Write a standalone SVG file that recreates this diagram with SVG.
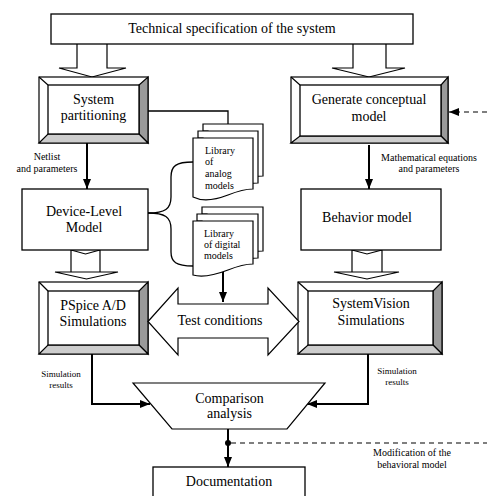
<svg xmlns="http://www.w3.org/2000/svg" width="487" height="496" viewBox="0 0 487 496">
<defs>
<style>
text{font-family:'Liberation Serif','DejaVu Serif',serif;fill:#000}
.big{font-size:14px;text-anchor:middle}
.sm{font-size:10px;text-anchor:middle}
.xs{font-size:9px;text-anchor:middle}
.lib{font-size:10px}
.box{fill:#fff;stroke:#000;stroke-width:1.3}
.hol{fill:#fff;stroke:#000;stroke-width:1.2}
.dark{fill:#9a9a9a;stroke:#000;stroke-width:1.2}
.light{fill:#cdcdcd;stroke:#000;stroke-width:1.2}
.wht{fill:#fff;stroke:#000;stroke-width:1.2}
.ln{fill:none;stroke:#000;stroke-width:2}
.thin{fill:none;stroke:#000;stroke-width:1.3}
.dash{fill:none;stroke:#000;stroke-width:1.1;stroke-dasharray:5 4}
</style>
<marker id="ah" viewBox="0 0 10 8" refX="10" refY="4" markerWidth="10" markerHeight="8" markerUnits="userSpaceOnUse" orient="auto">
<path d="M0,0 L10,4 L0,8 Z" fill="#000"/>
</marker>
</defs>

<g id="connectors">
<path class="hol" d="M77,44 V68 H59 L92,77 L126,68 H107 V44"/>
<path class="hol" d="M353,44 V68 H332 L369,77 L405,68 H386 V44"/>
<path class="hol" d="M71,250 L85.5,254 L100,250 V272 H55 L86.5,279 L118,272 H100"/>
<path class="hol" d="M71,250 V272"/>
<path class="hol" d="M352,250 L367,254 L382,250 V272 H334 L367,279 L399,272 H382"/>
<path class="hol" d="M352,250 V272"/>
<path class="thin" d="M148,111 H228 V124"/>
<path class="ln" d="M87,143 V189" marker-end="url(#ah)"/>
<path class="ln" d="M369,145 V189" marker-end="url(#ah)"/>
<path class="ln" d="M223,272 V302" marker-end="url(#ah)"/>
<path class="thin" d="M148,213 C165,213 171,209 171,197 V177 C171,166 176,162 193,162"/>
<path class="thin" d="M148,213 C165,213 171,217 171,229 V252 C171,262 176,266 193,266"/>
<path class="ln" d="M92,354 V404 H150" marker-end="url(#ah)"/>
<path class="ln" d="M368,354 V404 H307" marker-end="url(#ah)"/>
<path class="ln" d="M228,429 V467" marker-end="url(#ah)"/>
<circle cx="228" cy="443" r="3" fill="#000"/>
<path class="dash" d="M231,443 H487"/>
<path class="dash" d="M487,112 H449" marker-end="url(#ah)"/>
</g>

<g id="spec">
<rect class="box" x="51" y="14" width="362" height="30"/>
<text class="big" x="232" y="33" font-family="Liberation Serif">Technical specification of the system</text>
</g>

<g id="partitioning">
<rect class="wht" x="39" y="77" width="109" height="66"/>
<polygon class="dark" points="148,77 148,143 139,134 139,85"/>
<polygon class="light" points="39,143 148,143 139,134 48,134"/>
<line x1="39" y1="77" x2="48" y2="85" stroke="#000" stroke-width="1.2"/>
<rect class="box" x="48" y="85" width="91" height="49"/>
<text class="big" x="93.5" y="104">System</text>
<text class="big" x="93.5" y="120">partitioning</text>
</g>

<g id="conceptual">
<rect class="wht" x="291" y="77" width="157" height="66"/>
<polygon class="dark" points="448,77 448,143 441,136 441,85"/>
<polygon class="light" points="291,143 448,143 441,136 300,136"/>
<line x1="291" y1="77" x2="300" y2="85" stroke="#000" stroke-width="1.2"/>
<rect class="box" x="300" y="85" width="141" height="51"/>
<text class="big" x="369" y="104">Generate conceptual</text>
<text class="big" x="369" y="121">model</text>
</g>

<g id="device">
<rect class="box" x="22" y="189" width="126" height="61"/>
<text class="big" x="84" y="216">Device-Level</text>
<text class="big" x="84" y="232">Model</text>
</g>

<g id="behavior">
<rect class="box" x="301" y="189" width="140" height="61"/>
<text class="big" x="367" y="222">Behavior model</text>
</g>

<g id="lib-analog">
<path class="wht" d="M203,124 H263 V176 C255,176 248,178 240,181 C230,185 218,186 208,183 V131 H203 Z"/>
<path class="wht" d="M198,131 H258 V183 C250,183 243,185 235,188 C225,192 213,193 203,190 V138 H198 Z"/>
<path class="wht" d="M193,138 H253 V189 C245,189 238,191 228,195 C215,200 203,202 193,197 Z"/>
<text class="lib" x="205" y="154">Library</text>
<text class="lib" x="205" y="165">of</text>
<text class="lib" x="205" y="177">analog</text>
<text class="lib" x="205" y="189">models</text>
</g>

<g id="lib-digital">
<path class="wht" d="M202,207 H263 V251 C255,251 248,253 240,256 C230,260 218,262 207,259 V214 H202 Z"/>
<path class="wht" d="M197,214 H258 V258 C250,258 243,260 235,263 C225,267 213,269 202,266 V221 H197 Z"/>
<path class="wht" d="M193,221 H253 V264 C245,264 238,266 228,270 C215,275 203,278 193,275 Z"/>
<text class="lib" x="204" y="237">Library</text>
<text class="lib" x="204" y="248">of digital</text>
<text class="lib" x="204" y="259">models</text>
</g>

<g id="pspice">
<rect class="wht" x="39" y="282" width="109" height="72"/>
<polygon class="dark" points="148,282 148,354 139,345 139,291"/>
<polygon class="light" points="39,354 148,354 139,345 48,345"/>
<line x1="39" y1="282" x2="48" y2="291" stroke="#000" stroke-width="1.2"/>
<rect class="box" x="48" y="291" width="91" height="54"/>
<text class="big" x="93" y="310">PSpice A/D</text>
<text class="big" x="93" y="326">Simulations</text>
</g>

<g id="systemvision">
<rect class="wht" x="298" y="282" width="144" height="72"/>
<polygon class="dark" points="442,282 442,354 433,345 433,291"/>
<polygon class="light" points="298,354 442,354 433,345 308,345"/>
<line x1="298" y1="282" x2="308" y2="291" stroke="#000" stroke-width="1.2"/>
<rect class="box" x="308" y="291" width="125" height="54"/>
<text class="big" x="371" y="308">SystemVision</text>
<text class="big" x="371" y="325">Simulations</text>
</g>

<g id="test">
<polygon class="hol" points="148,321.5 178,288 178,304 268,304 268,288 299,321.5 268,355 268,338 178,338 178,355"/>
<text class="big" x="220" y="325">Test conditions</text>
</g>

<g id="comparison">
<polygon class="hol" points="133,383 325,383 287,429 172,429"/>
<text class="big" x="229.5" y="403">Comparison</text>
<text class="big" x="229.5" y="418">analysis</text>
</g>

<g id="documentation">
<rect class="box" x="153" y="467" width="152" height="32"/>
<text class="big" x="229" y="486">Documentation</text>
</g>

<g id="labels">
<text class="sm" x="47" y="160">Netlist</text>
<text class="sm" x="47" y="172">and parameters</text>
<text class="sm" x="429" y="161">Mathematical equations</text>
<text class="sm" x="429" y="172">and parameters</text>
<text class="xs" x="61" y="377">Simulation</text>
<text class="xs" x="61" y="388">results</text>
<text class="xs" x="397" y="374">Simulation</text>
<text class="xs" x="397" y="385">results</text>
<text class="sm" x="412" y="456">Modification of the</text>
<text class="sm" x="412" y="468">behavioral model</text>
</g>
</svg>
